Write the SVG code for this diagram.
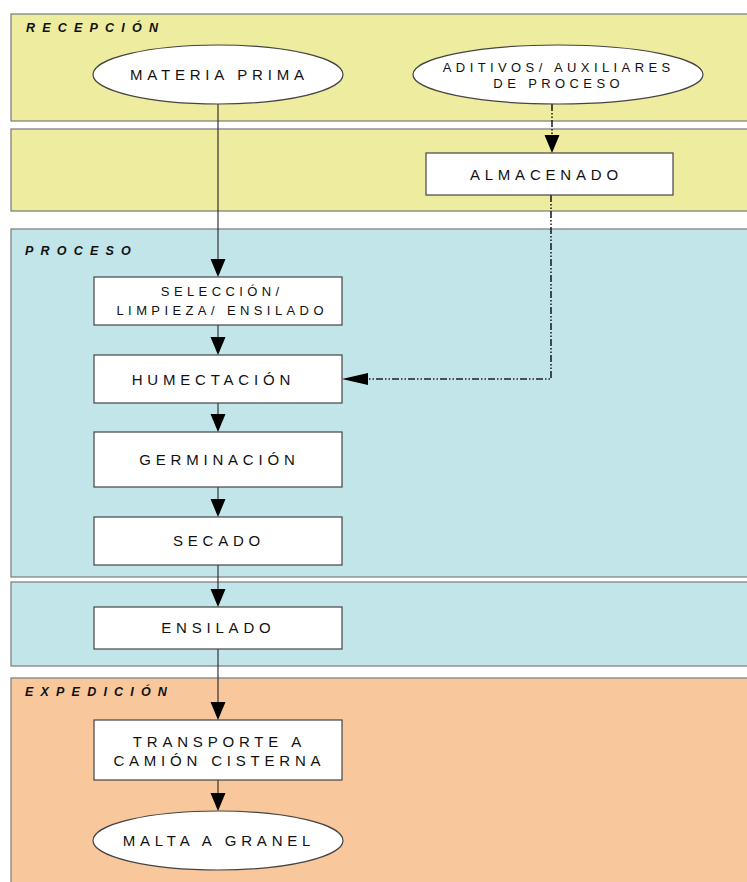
<svg xmlns="http://www.w3.org/2000/svg" width="747" height="882" viewBox="0 0 747 882">
<defs>
<style>
.band{stroke:#7a7a7a;stroke-width:1.2}
.y{fill:#eeec9e}.b{fill:#c2e5e9}.o{fill:#f9c79c}
.node{fill:#ffffff;stroke:#444;stroke-width:1.2}
.lbl{font-family:"Liberation Sans",Arial,sans-serif;font-weight:bold;font-style:italic;font-size:12.5px;letter-spacing:7.2px;fill:#111}
.t{font-family:"Liberation Sans",Arial,sans-serif;font-size:15px;letter-spacing:4.8px;fill:#111;text-anchor:middle}
.ts{font-family:"Liberation Sans",Arial,sans-serif;font-size:13px;letter-spacing:4.4px;fill:#111;text-anchor:middle}
.flow{stroke:#333;stroke-width:1.2;fill:none}
.dash{stroke:#222;stroke-width:1.6;fill:none;stroke-dasharray:7 2 1.5 2 1.5 2}
.ah{fill:#000}
</style>
</defs>
<g id="bands">
<rect class="band y" x="11" y="14" width="750" height="107"/>
<rect class="band y" x="11" y="129" width="750" height="82"/>
<rect class="band b" x="11" y="229" width="750" height="348"/>
<rect class="band b" x="11" y="582" width="750" height="84"/>
<rect class="band o" x="11" y="678" width="750" height="220"/>
<text class="lbl" x="26" y="31.5">RECEPCIÓN</text>
<text class="lbl" x="25" y="255">PROCESO</text>
<text class="lbl" x="25" y="696">EXPEDICIÓN</text>
</g>
<g id="connectors">
<line class="flow" x1="218" y1="104" x2="218" y2="262"/>
<polygon class="ah" points="210.5,259 225.5,259 218,277"/>
<line class="flow" x1="218" y1="325" x2="218" y2="340"/>
<polygon class="ah" points="210.5,337 225.5,337 218,355"/>
<line class="flow" x1="218" y1="403" x2="218" y2="417"/>
<polygon class="ah" points="210.5,414 225.5,414 218,432"/>
<line class="flow" x1="218" y1="487" x2="218" y2="502"/>
<polygon class="ah" points="210.5,499 225.5,499 218,517"/>
<line class="flow" x1="218" y1="565" x2="218" y2="592"/>
<polygon class="ah" points="210.5,589 225.5,589 218,607"/>
<line class="flow" x1="218" y1="649" x2="218" y2="705"/>
<polygon class="ah" points="210.5,702 225.5,702 218,720"/>
<line class="flow" x1="218" y1="780" x2="218" y2="796"/>
<polygon class="ah" points="210.5,793 225.5,793 218,811"/>
<path class="dash" d="M552,104 V137"/>
<polygon class="ah" points="544.5,135 559.5,135 552,153"/>
<path class="dash" d="M551,195 V379 H366"/>
<polygon class="ah" points="368,373 368,385 342,379"/>
</g>
<g id="materia-prima">
<ellipse class="node" cx="218" cy="74.5" rx="125" ry="29.5"/>
<text class="t" x="219.4" y="80">MATERIA PRIMA</text>
</g>
<g id="aditivos">
<ellipse class="node" cx="558" cy="74.5" rx="145" ry="29.5"/>
<text class="ts" x="558.7" y="72">ADITIVOS/ AUXILIARES</text>
<text class="ts" x="558.7" y="88">DE PROCESO</text>
</g>
<g id="almacenado">
<rect class="node" x="426" y="153" width="247" height="42"/>
<text class="t" x="546.4" y="179.5">ALMACENADO</text>
</g>
<g id="seleccion">
<rect class="node" x="94" y="277" width="248" height="48"/>
<text class="ts" x="222.2" y="296">SELECCIÓN/</text>
<text class="ts" x="222.2" y="315">LIMPIEZA/ ENSILADO</text>
</g>
<g id="humectacion">
<rect class="node" x="94" y="355" width="248" height="48"/>
<text class="t" x="213.4" y="385">HUMECTACIÓN</text>
</g>
<g id="germinacion">
<rect class="node" x="94" y="432" width="248" height="55"/>
<text class="t" x="219.4" y="465">GERMINACIÓN</text>
</g>
<g id="secado">
<rect class="node" x="94" y="517" width="248" height="48"/>
<text class="t" x="219" y="546">SECADO</text>
</g>
<g id="ensilado">
<rect class="node" x="94" y="607" width="248" height="42"/>
<text class="t" x="218.4" y="633">ENSILADO</text>
</g>
<g id="transporte">
<rect class="node" x="94" y="720" width="248" height="60"/>
<text class="t" x="219.4" y="747">TRANSPORTE A</text>
<text class="t" x="219.4" y="766">CAMIÓN CISTERNA</text>
</g>
<g id="malta">
<ellipse class="node" cx="218" cy="840.5" rx="125" ry="29.5"/>
<text class="t" x="219" y="846">MALTA A GRANEL</text>
</g>
</svg>
